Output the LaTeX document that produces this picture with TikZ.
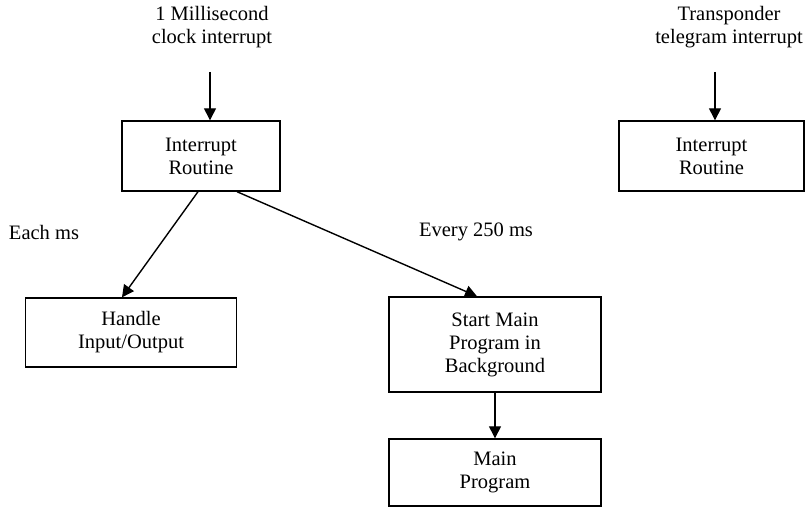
\documentclass[tikz,border=0pt]{standalone}
\usepackage{fontspec}
\setmainfont{Liberation Serif}
\usepackage{tikz}
\usetikzlibrary{positioning, arrows.meta}
\tikzstyle{line} = [draw, line width=1.4pt, -{Triangle[length=12pt,width=12pt]}]
\tikzstyle{block} = [rectangle, draw, line width=1.4pt, align=center,
    inner sep=0pt, font=\fontsize{20.5}{23}\selectfont]
\tikzstyle{caption} = [align=center, inner sep=0pt, font=\fontsize{20.5}{23}\selectfont]

\begin{document}
\begin{tikzpicture}[x=1pt, y=-1pt]
    \useasboundingbox (0,0) rectangle (806,510);

    \node[caption] (clk) at (212,27) {1 Millisecond\\clock interrupt};
    \node[caption] (tel) at (729,27) {Transponder\\telegram interrupt};

    \node[block, minimum width=158pt, minimum height=70pt] (irqclk) at (201,156) {Interrupt\\Routine};
    \node[block, minimum width=185pt, minimum height=70pt] (irqtel) at (711.5,156) {Interrupt\\Routine};
    \node[block, minimum width=211pt, minimum height=69pt] (handle) at (131,332.5) {Handle\\Input/Output};
    \node[block, minimum width=212pt, minimum height=95pt] (start) at (495,344.5) {Start Main\\Program in\\Background};
    \node[block, minimum width=212pt, minimum height=67pt] (main) at (495,472.5) {Main\\Program};

    \node[caption] (eachms) at (44,232) {Each ms};
    \node[caption] (every) at (476,232) {Every 250 ms};

    \coordinate (clkin) at (210,72);
    \coordinate (telin) at (715,72);

    \path [line] (clkin) -- (clkin |- irqclk.north);
    \path [line] (telin) -- (telin |- irqtel.north);
    \path [line] ([xshift=-3pt]irqclk.south) -- ([xshift=-9pt]handle.north);
    \path [line] ([xshift=36pt]irqclk.south) -- ([xshift=-18pt]start.north);
    \path [line] (start) -- (main);
\end{tikzpicture}
\end{document}
